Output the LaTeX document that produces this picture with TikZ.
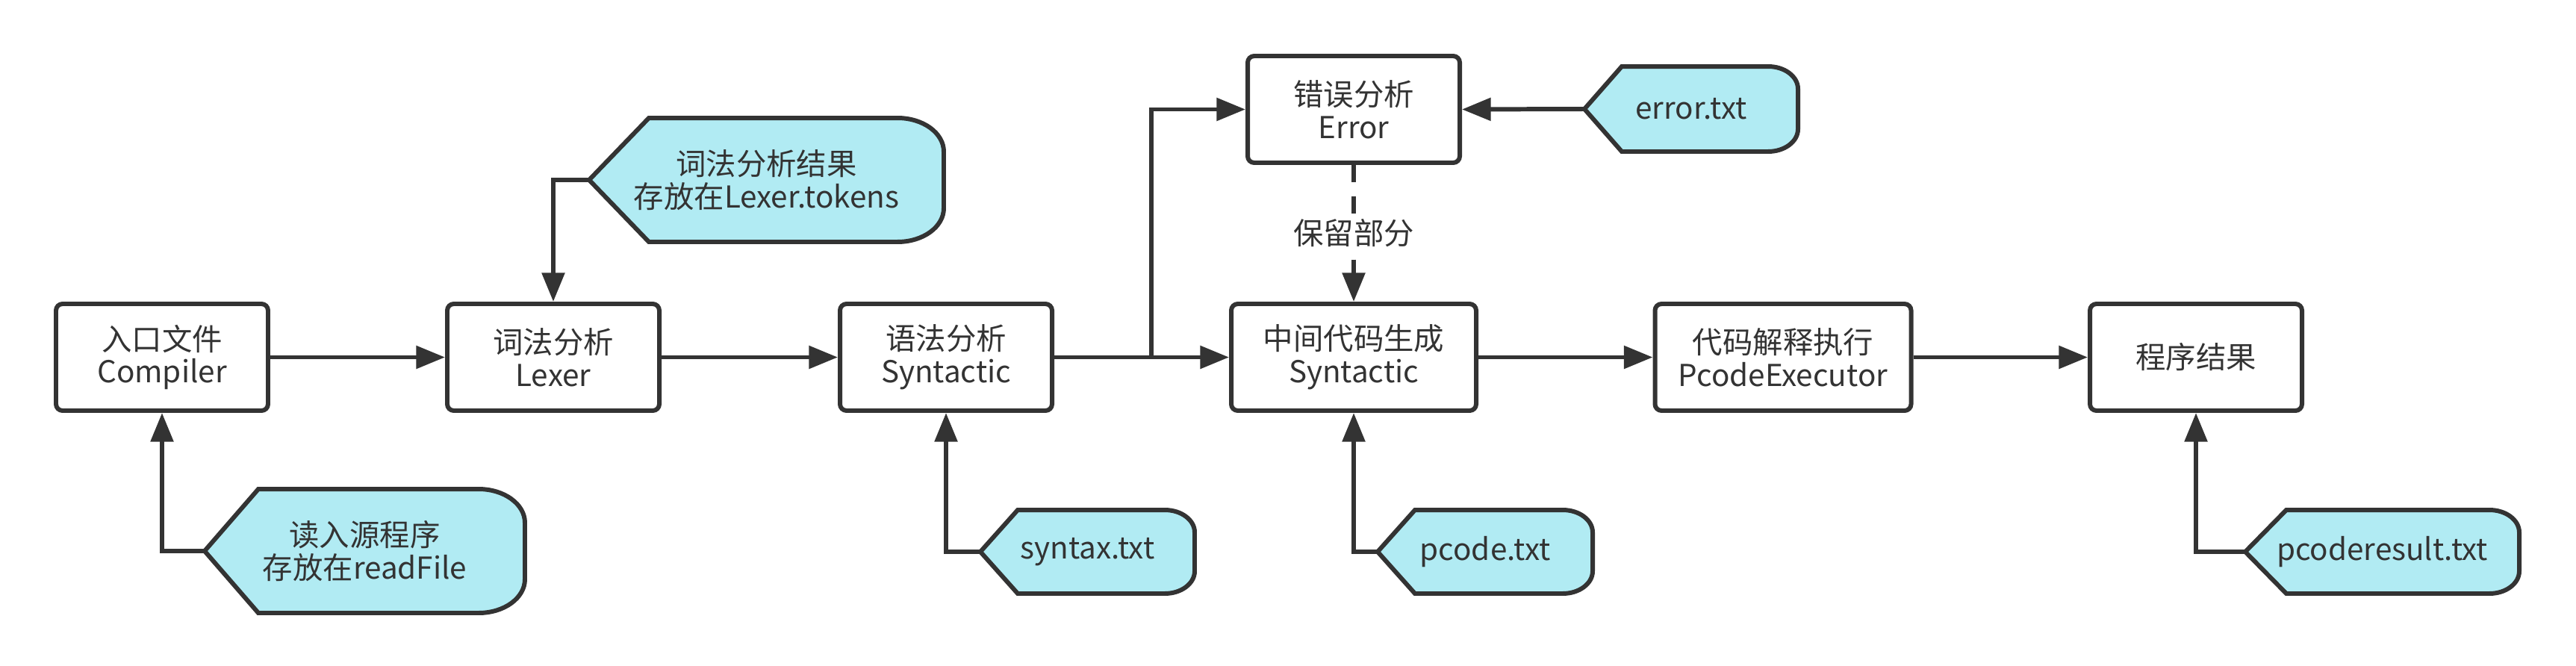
\documentclass[tikz,border=0pt]{standalone}
\usepackage{fontspec}
\setmainfont{Noto Sans CJK SC}
\usetikzlibrary{
  arrows.meta,
  backgrounds
}
\definecolor{ink}{HTML}{333333}
\definecolor{datafill}{HTML}{B1EBF3}

\begin{document}
\begin{tikzpicture}[
  color=ink,
  line width=1.7pt,
  font=\fontsize{11.5}{12.5}\selectfont,
  proc/.style={draw, fill=white, rounded corners=2.5pt, align=center,
    minimum width=#1, minimum height=1.43cm, inner sep=0pt},
  proc/.default=2.84cm,
  data/.style 2 args={align=center, minimum width=#1, minimum height=#2,
    inner sep=0pt},
  dataline/.style={draw=ink, fill=datafill, line width=1.7pt},
  flow/.style={-{Triangle[length=11pt,width=8.5pt]}},
]
\useasboundingbox (0,0) rectangle (34.5,8.91);

% processing steps
\node[proc] (cmp) at (2.17,4.125) {入口文件\\Compiler};
\node[proc] (lex) at (7.41,4.125) {词法分析\\Lexer};
\node[proc] (syn) at (12.67,4.125) {语法分析\\Syntactic};
\node[proc] (err) at (18.13,7.445) {错误分析\\Error};
\node[proc=3.28cm] (mid) at (18.13,4.125) {中间代码生成\\Syntactic};
\node[proc=3.43cm] (exe) at (23.88,4.125) {代码解释执行\\PcodeExecutor};
\node[proc] (res) at (29.41,4.125) {程序结果};

% data files
\node[data={4.23cm}{1.60cm}] (rf) at (4.885,1.53) {读入源程序\\存放在readFile};
\node[data={4.69cm}{1.60cm}] (tok) at (10.265,6.50) {词法分析结果\\存放在Lexer.tokens};
\node[data={2.81cm}{1.06cm}] (stx) at (14.565,1.52) {syntax.txt};
\node[data={2.82cm}{1.06cm}] (pcd) at (19.89,1.52) {pcode.txt};
\node[data={2.80cm}{1.08cm}] (etx) at (22.65,7.45) {error.txt};
\node[data={3.61cm}{1.06cm}] (prs) at (31.905,1.52) {pcoderesult.txt};

\begin{scope}[on background layer]
\foreach \n/\a/\rx/\ry in {rf/0.72/0.62/0.45, tok/0.8/0.62/0.45,
    stx/0.5/0.4/0.3, pcd/0.5/0.4/0.3, etx/0.5/0.4/0.3, prs/0.55/0.4/0.3} {
  \draw[dataline] (\n.west) -- ([xshift=\a cm]\n.north west)
    -- ([xshift=-\rx cm]\n.north east)
    arc[start angle=90, end angle=0, x radius=\rx cm, y radius=\ry cm]
    -- ([yshift=\ry cm]\n.south east)
    arc[start angle=0, end angle=-90, x radius=\rx cm, y radius=\ry cm]
    -- ([xshift=\a cm]\n.south west) -- cycle;
}
\end{scope}

% main flow
\coordinate (fork) at ([xshift=1.3cm]syn.east);
\draw[flow] (cmp) -- (lex);
\draw[flow] (lex) -- (syn);
\draw[flow] (syn) -- (mid);
\draw[flow] (fork) |- (err.west);
\draw[flow] (etx.west) -- (err.east);
\draw[flow, dash pattern=on 6.5pt off 5.5pt] (err) --
  node[fill=white, inner sep=2pt] {保留部分} (mid);
\draw[flow] (mid) -- (exe);
\draw[flow] (exe) -- (res);

% file inputs
\draw[flow] (rf.west) -| (cmp.south);
\draw[flow] (tok.west) -| (lex.north);
\draw[flow] (stx.west) -| (syn.south);
\draw[flow] (pcd.west) -| (mid.south);
\draw[flow] (prs.west) -| (res.south);
\end{tikzpicture}
\end{document}
